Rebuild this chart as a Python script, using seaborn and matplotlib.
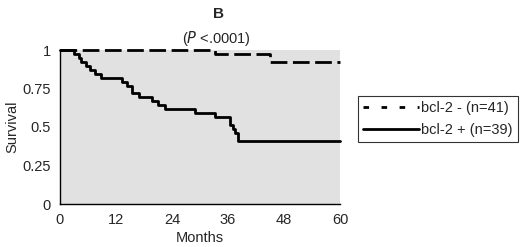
import numpy as np
import pandas as pd
import seaborn as sns
import matplotlib.pyplot as plt
from matplotlib.lines import Line2D

# Kaplan-Meier steps
neg_months = [0, 33.2, 45.0, 60]
neg_surv = [1.0, 0.976, 0.92, 0.92]

pos_months = [0, 3, 4, 4.6, 5.5, 6.5, 7.6, 8.8, 13.2, 14.3, 15.4, 17.0, 19.7,
              21.0, 22.6, 29.0, 33.2, 36.4, 37.0, 37.5, 38.1, 60]
pos_surv = [1.0, 0.974, 0.949, 0.923, 0.897, 0.872, 0.846, 0.821, 0.795, 0.769,
            0.718, 0.692, 0.667, 0.641, 0.615, 0.590, 0.564, 0.513, 0.487,
            0.462, 0.410, 0.410]

labels = ["bcl-2 - (n=41)", "bcl-2 + (n=39)"]
x_ticks = [0, 12, 24, 36, 48, 60]
y_ticks = [0, 0.25, 0.5, 0.75, 1]
y_ticklabels = ["0", "0.25", "0.5", "0.75", "1"]

sns.set_style("white")
plt.rcParams["font.family"] = ["Liberation Sans", "DejaVu Sans"]

neg = pd.DataFrame({"months": neg_months, "survival": neg_surv})
pos = pd.DataFrame({"months": pos_months, "survival": pos_surv})

fig = plt.figure(figsize=(5.2, 2.47), dpi=100)
ax = fig.add_axes([60 / 520, 1 - 204 / 247, 280 / 520, 154 / 247])
ax.set_facecolor("#e1e1e1")

sns.lineplot(data=neg, x="months", y="survival", drawstyle="steps-post",
             color="black", lw=2, dashes=(6, 2), ax=ax, clip_on=False)
sns.lineplot(data=pos, x="months", y="survival", drawstyle="steps-post",
             color="black", lw=2, ax=ax, clip_on=False)

ax.set_xlim(0, 60)
ax.set_ylim(0, 1)
ax.set_xticks(x_ticks)
ax.set_yticks(y_ticks)
ax.set_yticklabels(y_ticklabels)
ax.tick_params(direction="inout", length=6, width=1, labelsize=10.5, color="black")
for s in ["top", "right"]:
    ax.spines[s].set_visible(False)
for s in ["left", "bottom"]:
    ax.spines[s].set_color("black")
    ax.spines[s].set_linewidth(1)
    ax.spines[s].set_zorder(5)

ax.set_xlabel("Months", fontsize=10.5, labelpad=3)
ax.set_ylabel("Survival", fontsize=10.5, labelpad=2)

fig.text(218 / 520, 1 - 14 / 247, "B", fontsize=11, fontweight="bold",
         ha="center", va="center")
fig.text(216 / 520, 1 - 38 / 247, r"($\it{P}$ <.0001)", fontsize=10.5,
         ha="center", va="center")

handles = [Line2D([], [], color="black", lw=2, dashes=(2, 4.5)),
           Line2D([], [], color="black", lw=2)]
leg = fig.legend(handles, labels, loc="center", bbox_to_anchor=(438 / 520, 1 - 119 / 247),
                 frameon=True, fancybox=False, edgecolor="black", fontsize=10.5,
                 handlelength=3.8, handletextpad=0.2, borderpad=0.35,
                 borderaxespad=0, labelspacing=0.6)
leg.get_frame().set_linewidth(0.8)

fig.savefig("out.png", dpi=100)
